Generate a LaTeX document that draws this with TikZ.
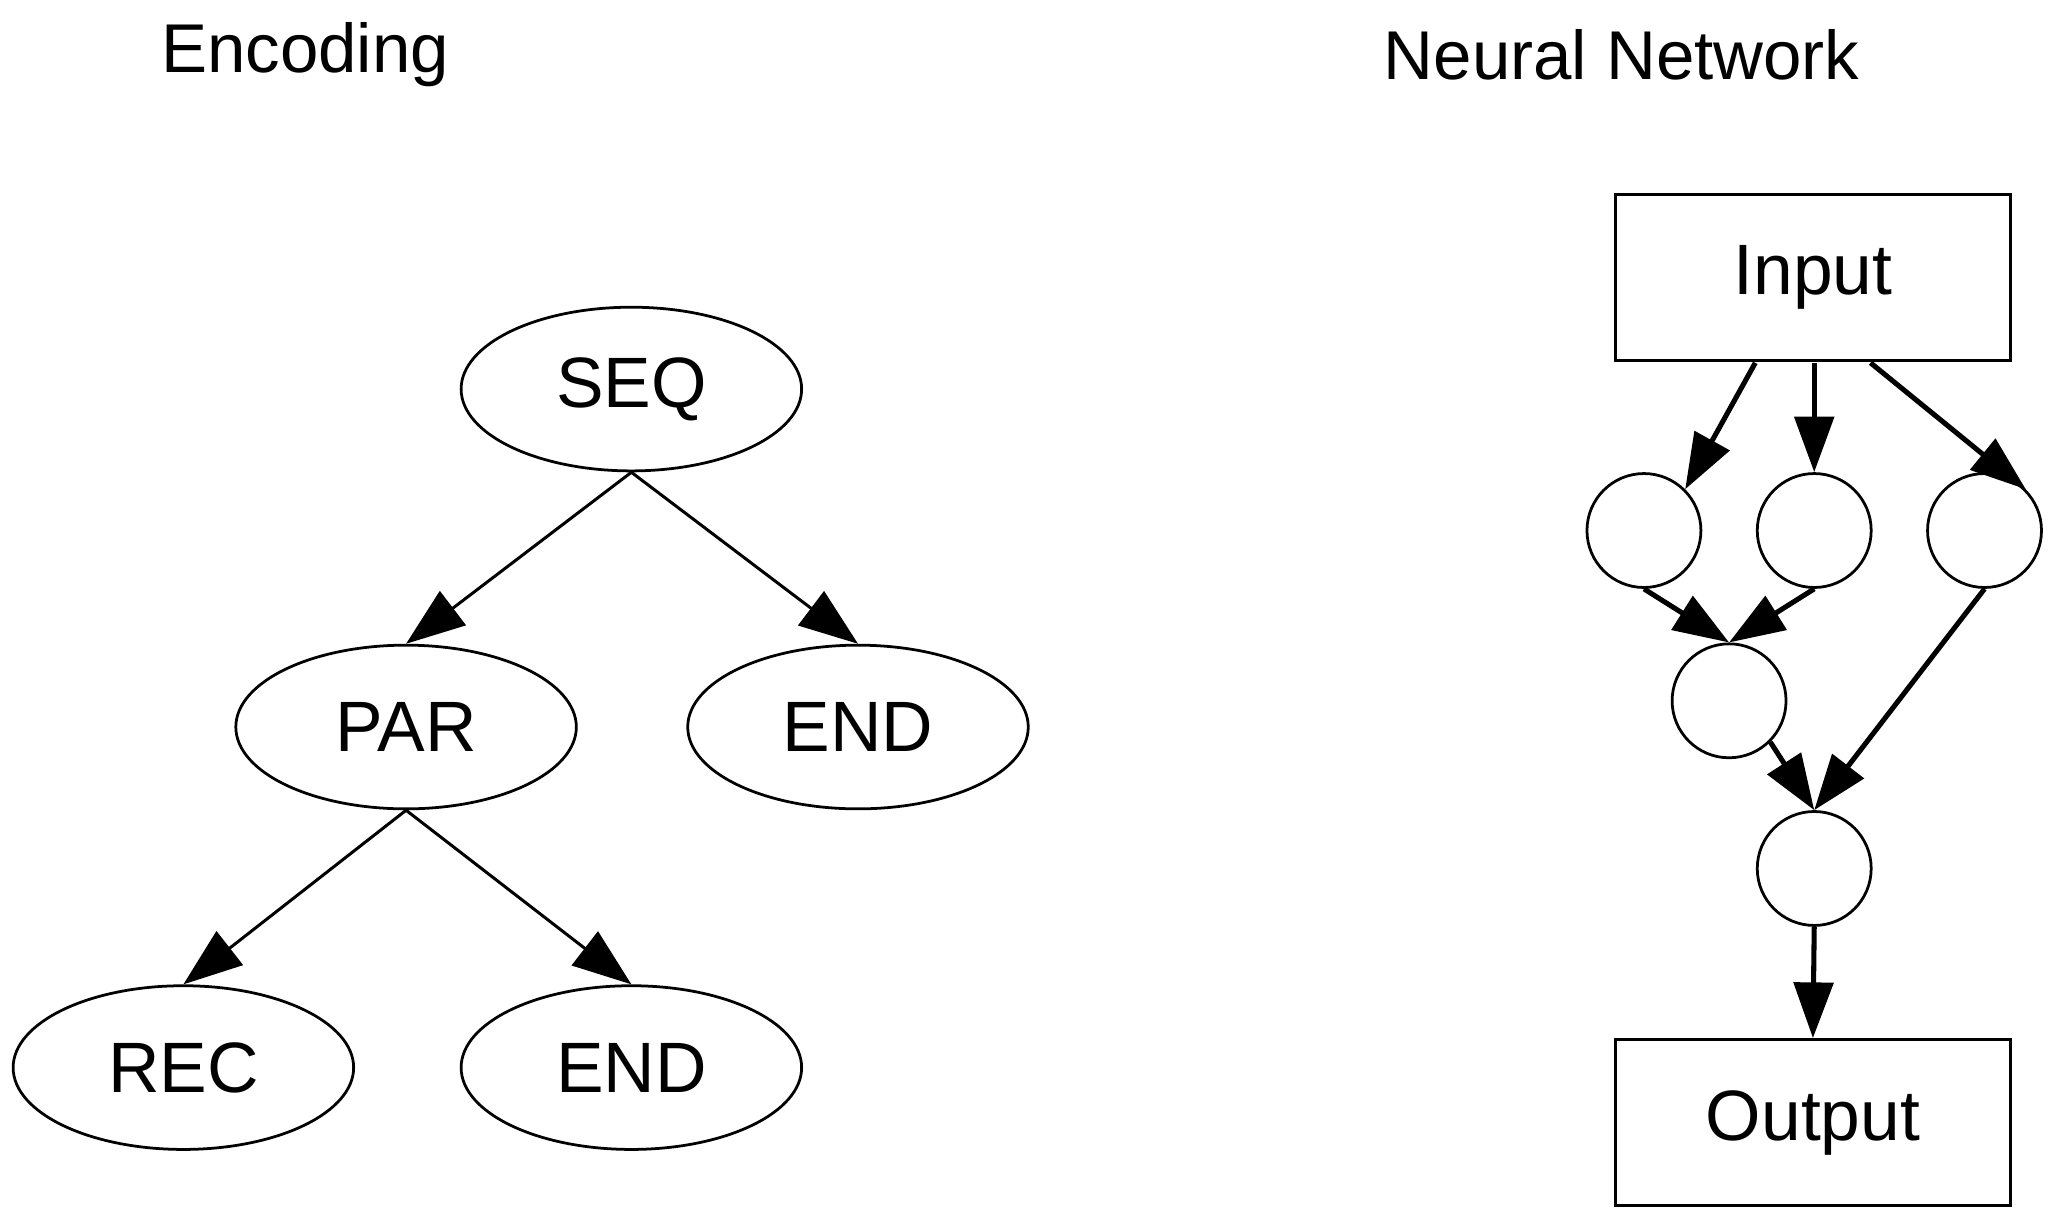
\documentclass[tikz,border=0pt]{standalone}
\usepackage{fontspec}
\setmainfont{Liberation Sans}
\usetikzlibrary{shapes.geometric,arrows.meta}
\begin{document}
\begin{tikzpicture}[x=0.02cm,y=-0.02cm,
  ell/.style={draw,ellipse,line width=1.2pt,minimum width=5.2cm,minimum height=2.5cm,inner sep=0pt,font=\fontsize{31}{36}\selectfont},
  box/.style={draw,rectangle,line width=1.2pt,minimum width=6.04cm,minimum height=2.54cm,font=\fontsize{31}{36}\selectfont},
  circ/.style={draw,circle,line width=1.2pt,minimum size=1.74cm,inner sep=0pt},
  tarr/.style={line width=1.3pt,-{Triangle[length=0.9cm,width=0.65cm]}},
  narr/.style={line width=2.2pt,-{Triangle[length=0.85cm,width=0.6cm]}},
  title/.style={font=\fontsize{30}{36}\selectfont}]
\useasboundingbox (0,0) rectangle (1565,937);
\node[title] (t1) at (233,42) {Encoding};
\node[title] (t2) at (1238,42) {Neural Network};
\node[ell] (seq) at (482,297) {SEQ};
\node[ell] (par) at (310,555) {PAR};
\node[ell] (end1) at (655,555) {END};
\node[ell] (rec) at (140,815) {REC};
\node[ell] (end2) at (482,815) {END};
\draw[tarr] (seq.south) -- (par.north);
\draw[tarr] (seq.south) -- (end1.north);
\draw[tarr] (par.south) -- (rec.north);
\draw[tarr] (par.south) -- (end2.north);
\node[box] (in) at (1384,212) {Input};
\node[box] (out) at (1384,857) {Output};
\node[circ] (c1) at (1255,405) {};
\node[circ] (c2) at (1385,405) {};
\node[circ] (c3) at (1515,405) {};
\node[circ] (c4) at (1320,535) {};
\node[circ] (c5) at (1385,663) {};
\coordinate (i1) at (1340,277);
\coordinate (i2) at (1385,277);
\coordinate (i3) at (1428,277);
\draw[narr] (i1) -- (c1.north east);
\draw[narr] (i2) -- (c2.north);
\draw[narr] (i3) -- (c3.north east);
\draw[narr] (c1.south) -- (c4.north);
\draw[narr] (c2.south) -- (c4.north);
\draw[narr] (c3.south) -- (c5.north);
\draw[narr] (c4.south east) -- (c5.north);
\draw[narr] (c5.south) -- (out.north);
\end{tikzpicture}
\end{document}
